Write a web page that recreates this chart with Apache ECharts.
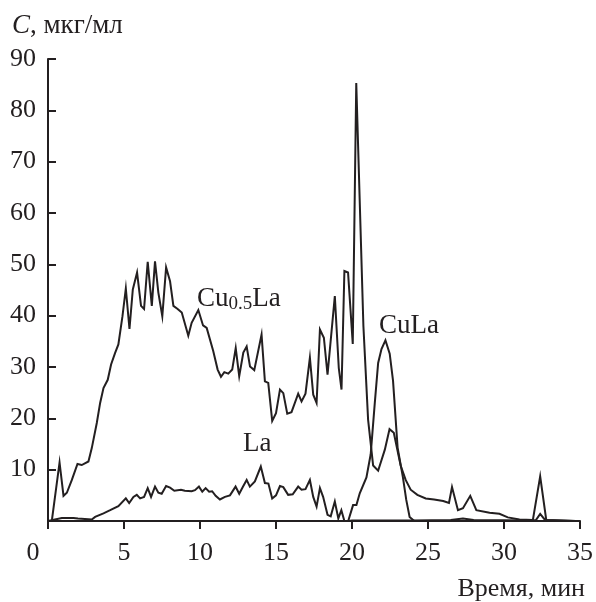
<!DOCTYPE html>
<html><head><meta charset="utf-8">
<script src="https://cdn.jsdelivr.net/npm/echarts@6/dist/echarts.min.js"></script>
<style>html,body{margin:0;padding:0;background:#fff}#c{width:596px;height:602px}</style>
</head><body><div id="c"></div>
<script>
const xTicks = [0, 5, 10, 15, 20, 25, 30, 35];
const yTicks = [10, 20, 30, 40, 50, 60, 70, 80, 90];
const seriesNames = ['Cu0.5La', 'CuLa', 'La'];
const cu05La = [[0.25,0],[0.76,11.4],[1.02,4.9],[1.24,5.5],[1.57,8],[1.94,11.1],[2.22,10.9],[2.66,11.6],[2.88,14.2],[3.21,19.1],[3.43,23],[3.65,25.9],[3.93,27.5],[4.15,30.5],[4.41,32.7],[4.63,34.4],[4.9,39.9],[5.12,45.3],[5.36,37.4],[5.58,45.1],[5.86,48.4],[6.12,41.9],[6.32,41.3],[6.56,50.5],[6.83,41.9],[7.04,50.6],[7.26,44.5],[7.52,39.9],[7.77,49.4],[8.03,46.7],[8.25,41.9],[8.53,41.3],[8.8,40.6],[9.23,36.1],[9.45,38.6],[9.89,41.1],[10.2,38.1],[10.44,37.6],[10.87,33.1],[11.16,29.5],[11.38,28.1],[11.6,29],[11.86,28.7],[12.12,29.5],[12.35,33.7],[12.58,28.2],[12.85,32.8],[13.07,34],[13.29,30.1],[13.57,29.4],[14.05,36.3],[14.27,27.2],[14.49,26.9],[14.75,19.5],[15,21],[15.26,25.6],[15.48,24.9],[15.74,20.9],[16.02,21.2],[16.46,24.8],[16.68,23.3],[16.94,24.8],[17.23,31.8],[17.45,24.6],[17.67,23],[17.89,37.3],[18.15,35.7],[18.39,28.5],[18.87,43.8],[19.13,29.8],[19.31,25.6],[19.5,48.7],[19.74,48.4],[20.05,34.5],[20.28,85.3],[20.75,38],[21.06,19.7],[21.39,10.8],[21.72,9.8],[22.16,13.9],[22.47,17.9],[22.75,17.2],[23.2,10.8],[23.53,8],[23.86,6.1],[24.3,5.1],[24.85,4.4],[25.4,4.2],[26.0,3.9],[26.38,3.5],[26.58,6.6],[26.97,2.1],[27.3,2.5],[27.78,4.9],[28.18,2.1],[29.05,1.6],[29.7,1.4],[30.25,0.7],[31.02,0.3],[31.9,0.2],[32.38,8.7],[32.78,0.2],[34.7,0]];
const cuLa = [[19.75,0],[20.07,3.1],[20.29,3.1],[20.51,5.4],[20.95,8.5],[21.23,13],[21.5,23],[21.72,30.8],[21.94,33.5],[22.2,35.2],[22.48,32.6],[22.7,27.3],[23.0,14.3],[23.35,8.5],[23.57,4.1],[23.79,0.8],[24.1,0]];
const la = [[0,0],[0.91,0.6],[1.68,0.6],[1.97,0.5],[2.88,0.3],[3.1,0.8],[3.65,1.5],[4.09,2.1],[4.63,2.9],[5.12,4.4],[5.34,3.5],[5.62,4.7],[5.84,5.1],[6.06,4.4],[6.32,4.7],[6.56,6.4],[6.78,4.7],[7.04,6.7],[7.26,5.5],[7.48,5.3],[7.77,6.8],[8.03,6.5],[8.31,5.9],[8.75,6.1],[9.0,5.9],[9.45,5.8],[9.67,6.0],[9.93,6.7],[10.15,5.7],[10.37,6.4],[10.6,5.7],[10.8,5.8],[11.03,4.9],[11.31,4.2],[11.64,4.7],[11.97,5.0],[12.34,6.7],[12.58,5.3],[12.85,6.8],[13.07,8.0],[13.28,6.7],[13.61,7.7],[14.0,10.6],[14.27,7.4],[14.5,7.3],[14.75,4.4],[15.0,5.0],[15.26,6.8],[15.48,6.6],[15.8,5.1],[16.1,5.2],[16.46,6.7],[16.68,6.1],[16.94,6.2],[17.23,8.0],[17.45,4.7],[17.67,2.8],[17.89,6.4],[18.1,4.7],[18.39,1.2],[18.6,0.9],[18.87,3.8],[19.1,0.5],[19.3,2.1],[19.5,0],[19.75,0],[20,0.1],[24,0.1],[26.5,0.2],[27.3,0.5],[28,0.2],[31.9,0.1],[32.1,0.2],[32.38,1.4],[32.7,0.2],[34.7,0]];

const INK = '#231f20';
const FONT = '"Liberation Serif", "DejaVu Serif", serif';
const chart = echarts.init(document.getElementById('c'), null, {renderer: 'canvas'});
const lineSeries = (name, data) => ({
  name, type: 'line', data, symbol: 'none', silent: true, animation: false,
  lineStyle: {color: INK, width: 2, join: 'miter'}
});
chart.setOption({
  backgroundColor: '#fff',
  animation: false,
  grid: {left: 48, right: 16, top: 59, bottom: 81, containLabel: false},
  xAxis: {
    type: 'value', min: 0, max: 35, interval: 5,
    axisLine: {show: true, onZero: false, lineStyle: {color: INK, width: 2}},
    axisTick: {show: true, inside: false, length: 8, lineStyle: {color: INK, width: 2}},
    axisLabel: {color: INK, fontFamily: FONT, fontSize: 26, margin: 19,
      formatter: v => v === 0 ? '{z|0}' : (xTicks.includes(v) ? String(v) : ''),
      rich: {z: {fontFamily: FONT, fontSize: 26, color: INK, padding: [0, 30, 0, 0]}}},
    splitLine: {show: false}
  },
  yAxis: {
    type: 'value', min: 0, max: 90, interval: 10,
    axisLine: {show: true, lineStyle: {color: INK, width: 2}},
    axisTick: {show: true, inside: true, length: 8, lineStyle: {color: INK, width: 2}},
    axisLabel: {color: INK, fontFamily: FONT, fontSize: 26, margin: 12,
      formatter: v => yTicks.includes(v) ? String(v) : ''},
    splitLine: {show: false}
  },
  series: [lineSeries(seriesNames[0], cu05La), lineSeries(seriesNames[1], cuLa), lineSeries(seriesNames[2], la)],
  graphic: [
    {type: 'text', left: 12, top: 12, style: {
      text: '{i|C}, мкг/мл', fill: INK, font: '27px ' + FONT,
      rich: {i: {fontStyle: 'italic', fontSize: 27, fontFamily: FONT, fill: INK}}
    }},
    {type: 'text', right: 11, top: 576, style: {text: 'Время, мин', fill: INK, font: '26px ' + FONT}},
    {type: 'text', left: 197, top: 285, style: {
      text: 'Cu{s|0.5}La', fill: INK, font: '27px ' + FONT,
      rich: {s: {fontSize: 19, fontFamily: FONT, fill: INK, padding: [11, 0, 0, 0]}}
    }},
    {type: 'text', left: 379, top: 312, style: {text: 'CuLa', fill: INK, font: '27px ' + FONT}},
    {type: 'text', left: 243, top: 430, style: {text: 'La', fill: INK, font: '27px ' + FONT}}
  ]
});
</script></body></html>
